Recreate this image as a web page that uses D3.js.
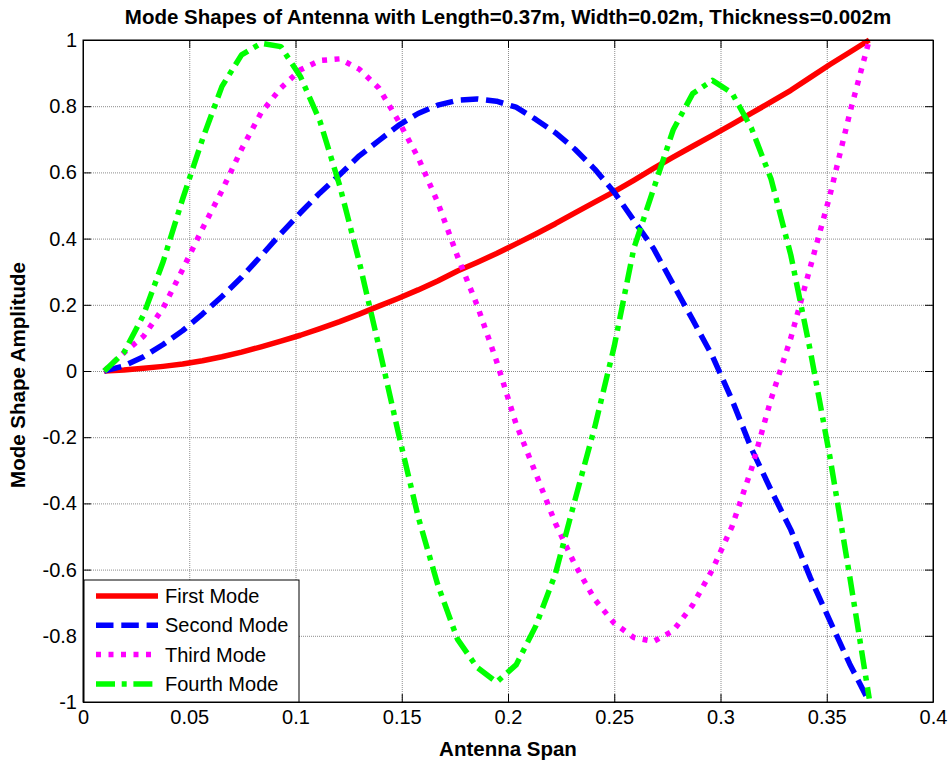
<!DOCTYPE html>
<html>
<head>
<meta charset="utf-8">
<script src="https://cdn.jsdelivr.net/npm/d3@7"></script>
<style>
  html, body { margin: 0; padding: 0; background: #fff; }
  svg { display: block; }
  text { font-family: "Liberation Sans", Arial, Helvetica, sans-serif; }
</style>
</head>
<body>
<svg id="chart" width="949" height="760"></svg>
<script>
// ---- data ----
const spanX = [0.0100, 0.0192, 0.0285, 0.0377, 0.0469, 0.0562, 0.0654, 0.0746, 0.0838, 0.0931,
               0.1023, 0.1115, 0.1208, 0.1300, 0.1392, 0.1485, 0.1577, 0.1669, 0.1762, 0.1854,
               0.1946, 0.2038, 0.2131, 0.2223, 0.2315, 0.2408, 0.2500, 0.2592, 0.2685, 0.2777,
               0.2869, 0.2962, 0.3054, 0.3146, 0.3238, 0.3331, 0.3423, 0.3515, 0.3608, 0.3700];

const firstMode  = [0.000, 0.003, 0.008, 0.014, 0.021, 0.031, 0.043, 0.057, 0.073, 0.090,
                    0.108, 0.128, 0.149, 0.172, 0.196, 0.220, 0.245, 0.272, 0.302, 0.328,
                    0.355, 0.384, 0.414, 0.445, 0.478, 0.510, 0.542, 0.576, 0.612, 0.646,
                    0.679, 0.712, 0.745, 0.779, 0.813, 0.848, 0.887, 0.926, 0.963, 1.000];

const secondMode = [0.000, 0.015, 0.043, 0.080, 0.122, 0.172, 0.225, 0.283, 0.348, 0.415,
                    0.478, 0.538, 0.593, 0.650, 0.696, 0.742, 0.778, 0.803, 0.818, 0.822,
                    0.815, 0.797, 0.760, 0.720, 0.670, 0.610, 0.540, 0.455, 0.370, 0.262,
                    0.155, 0.045, -0.087, -0.235, -0.360, -0.480, -0.625, -0.755, -0.885, -1.000];

const thirdMode  = [0.000, 0.055, 0.105, 0.190, 0.307, 0.430, 0.545, 0.670, 0.780, 0.855,
                    0.910, 0.938, 0.943, 0.912, 0.855, 0.755, 0.645, 0.510, 0.347, 0.200,
                    0.030, -0.160, -0.310, -0.460, -0.585, -0.690, -0.762, -0.805, -0.817, -0.785,
                    -0.707, -0.600, -0.470, -0.295, -0.085, 0.100, 0.315, 0.531, 0.778, 1.000];

const fourthMode = [0.000, 0.055, 0.170, 0.330, 0.520, 0.700, 0.860, 0.955, 0.990, 0.980,
                    0.890, 0.755, 0.560, 0.330, 0.075, -0.190, -0.440, -0.645, -0.810, -0.895,
                    -0.940, -0.888, -0.770, -0.613, -0.390, -0.170, 0.075, 0.370, 0.550, 0.728,
                    0.838, 0.878, 0.840, 0.733, 0.580, 0.350, 0.060, -0.260, -0.620, -0.990];

const seriesNames  = ["First Mode", "Second Mode", "Third Mode", "Fourth Mode"];
const seriesColors = ["#ff0000", "#0000ff", "#ff00ff", "#00ff00"];
const seriesDashes = [null, "17.5,7.8", "5,7.5", "19,6.7,5,6.7"];

const xTickValues = [0, 0.05, 0.1, 0.15, 0.2, 0.25, 0.3, 0.35, 0.4];
const xTickLabels = ["0", "0.05", "0.1", "0.15", "0.2", "0.25", "0.3", "0.35", "0.4"];
const yTickValues = [-1, -0.8, -0.6, -0.4, -0.2, 0, 0.2, 0.4, 0.6, 0.8, 1];
const yTickLabels = ["-1", "-0.8", "-0.6", "-0.4", "-0.2", "0", "0.2", "0.4", "0.6", "0.8", "1"];

const titleText = "Mode Shapes of Antenna with Length=0.37m, Width=0.02m, Thickness=0.002m";
const xLabelText = "Antenna Span";
const yLabelText = "Mode Shape Amplitude";

// ---- layout ----
const svg = d3.select("#chart");
const L = 83, R = 933, T = 40, B = 702;
const W = R - L, H = B - T;
const FS = 20;      // tick / legend text
const FSB = 20.5;   // bold title / labels

const x = d3.scaleLinear().domain([0, 0.4]).range([L, R]);
const y = d3.scaleLinear().domain([-1, 1]).range([B, T]);

svg.append("rect").attr("x", 0).attr("y", 0).attr("width", 949).attr("height", 760).attr("fill", "#fff");

// grid
const grid = svg.append("g").attr("class", "grid");
grid.append("g").attr("transform", `translate(0,${B})`)
  .call(d3.axisBottom(x).tickValues(xTickValues).tickSize(-H).tickFormat(""))
  .call(g => g.select(".domain").remove());
grid.append("g").attr("transform", `translate(${L},0)`)
  .call(d3.axisLeft(y).tickValues(yTickValues).tickSize(-W).tickFormat(""))
  .call(g => g.select(".domain").remove());
grid.selectAll("line").attr("stroke", "#8c8c8c").attr("stroke-width", 1).attr("stroke-dasharray", "1,1");

// series lines
const series = [firstMode, secondMode, thirdMode, fourthMode];
const line = d3.line().x((d, i) => x(spanX[i])).y(d => y(d));
series.forEach((vals, k) => {
  svg.append("path")
    .datum(vals)
    .attr("d", line)
    .attr("fill", "none")
    .attr("stroke", seriesColors[k])
    .attr("stroke-width", 5.5)
    .attr("stroke-linejoin", "round")
    .attr("stroke-linecap", "butt")
    .attr("stroke-dasharray", seriesDashes[k]);
});

// axes (ticks inward)
const tickLen = 8;
const xAxis = svg.append("g").attr("transform", `translate(0,${B})`)
  .call(d3.axisBottom(x).tickValues(xTickValues).tickFormat((d, i) => xTickLabels[i])
        .tickSizeInner(-tickLen).tickSizeOuter(0).tickPadding(8));
const yAxis = svg.append("g").attr("transform", `translate(${L},0)`)
  .call(d3.axisLeft(y).tickValues(yTickValues).tickFormat((d, i) => yTickLabels[i])
        .tickSizeInner(-tickLen).tickSizeOuter(0).tickPadding(6));
const xAxisTop = svg.append("g").attr("transform", `translate(0,${T})`)
  .call(d3.axisTop(x).tickValues(xTickValues).tickFormat("").tickSizeInner(-tickLen).tickSizeOuter(0));
const yAxisRight = svg.append("g").attr("transform", `translate(${R},0)`)
  .call(d3.axisRight(y).tickValues(yTickValues).tickFormat("").tickSizeInner(-tickLen).tickSizeOuter(0));

[xAxis, yAxis, xAxisTop, yAxisRight].forEach(g => {
  g.select(".domain").attr("stroke", "#000").attr("stroke-width", 1);
  g.selectAll(".tick line").attr("stroke", "#000").attr("stroke-width", 1);
  g.selectAll("text").attr("font-size", FS).attr("fill", "#000")
    .style("font-family", '"Liberation Sans", Arial, sans-serif');
});

// box
svg.append("rect").attr("x", L).attr("y", T).attr("width", W).attr("height", H)
  .attr("fill", "none").attr("stroke", "#000").attr("stroke-width", 1);

// legend
const legX = L + 1, legY = 580, legW = 215, legH = B - 580;
const leg = svg.append("g");
leg.append("rect").attr("x", legX).attr("y", legY).attr("width", legW).attr("height", legH)
  .attr("fill", "#fff").attr("stroke", "#000").attr("stroke-width", 1);
seriesNames.forEach((name, k) => {
  const cy = 596 + k * 29.3;
  leg.append("line").attr("x1", 96).attr("x2", 158).attr("y1", cy).attr("y2", cy)
    .attr("stroke", seriesColors[k]).attr("stroke-width", 5.5)
    .attr("stroke-dasharray", seriesDashes[k]);
  leg.append("text").attr("x", 165).attr("y", cy).attr("dy", "0.35em")
    .attr("font-size", FS).attr("fill", "#000").text(name);
});

// title and labels
svg.append("text").attr("x", (L + R) / 2).attr("y", 24).attr("text-anchor", "middle")
  .attr("font-size", FSB).attr("font-weight", "bold").text(titleText);
svg.append("text").attr("x", (L + R) / 2).attr("y", 756).attr("text-anchor", "middle")
  .attr("font-size", FSB).attr("font-weight", "bold").text(xLabelText);
svg.append("text").attr("transform", `translate(25,${(T + B) / 2 + 4}) rotate(-90)`)
  .attr("text-anchor", "middle")
  .attr("font-size", FSB).attr("font-weight", "bold").text(yLabelText);
</script>
</body>
</html>
